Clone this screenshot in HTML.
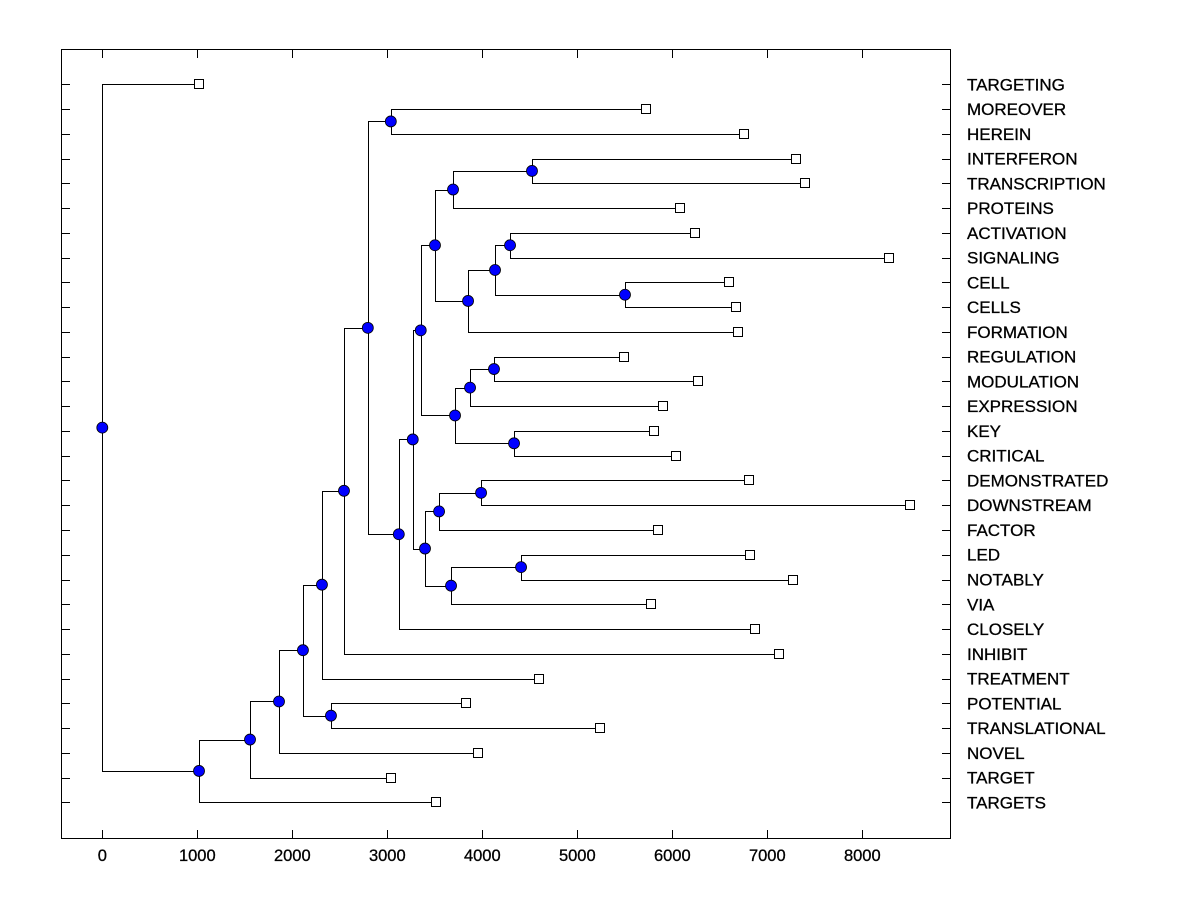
<!DOCTYPE html>
<html><head><meta charset="utf-8"><style>
html,body{margin:0;padding:0;background:#fff;}
svg{display:block;font-family:"Liberation Sans",Arial,sans-serif;}
</style></head><body>
<svg id="chart" width="1200" height="900" viewBox="0 0 1200 900">
<rect x="0" y="0" width="1200" height="900" fill="#fff"/>
<rect x="61.5" y="49.5" width="889" height="789" fill="none" stroke="#000" stroke-width="1"/>
<g id="ticks"></g>
<g id="links"></g>
<g id="marks"></g>
<g id="labels"></g>
</svg>
<script>
const leafLabels = ["TARGETING","MOREOVER","HEREIN","INTERFERON","TRANSCRIPTION","PROTEINS","ACTIVATION","SIGNALING","CELL","CELLS","FORMATION","REGULATION","MODULATION","EXPRESSION","KEY","CRITICAL","DEMONSTRATED","DOWNSTREAM","FACTOR","LED","NOTABLY","VIA","CLOSELY","INHIBIT","TREATMENT","POTENTIAL","TRANSLATIONAL","NOVEL","TARGET","TARGETS"];
const leafValues = [1018,5723,6755,7302,7397,6081,6239,8281,6597,6671,6692,5492,6271,5902,5807,6039,6807,8502,5849,6818,7271,5776,6871,7123,4597,3828,5239,3955,3039,3513];
const mergeLeft  = [3,8,6,11,14,16,19,1,25,32,30,39,40,33,43,42,35,36,46,45,49,37,51,52,53,54,55,56,0];
const mergeRight = [4,9,7,12,15,17,20,2,26,31,5,10,41,13,34,44,18,21,47,48,22,50,23,24,38,27,28,29,57];
const mergeHeight= [4523,5502,4292,4123,4334,3987,4408,3037,2407,4134,3692,3850,3502,3871,3713,3352,3545,3671,3397,3268,3121,2795,2544,2312,2112,1860,1555,1018,0];
const xTicks = [0,1000,2000,3000,4000,5000,6000,7000,8000];

const NS="http://www.w3.org/2000/svg";
const xs = v => 102.3 + 0.095*v;
const ys = i => 84.3 + i*24.76;
function mk(tag, attrs, parent){const e=document.createElementNS(NS,tag);for(const k in attrs)e.setAttribute(k,attrs[k]);parent.appendChild(e);return e;}
const gT=document.getElementById('ticks'),gL=document.getElementById('links'),gM=document.getElementById('marks'),gLab=document.getElementById('labels');

xTicks.forEach(t=>{
  const x=Math.round(xs(t))+0.5;
  let l=mk('line',{x1:x,x2:x,y1:830,y2:838,stroke:'#000'},gT);
  
  
  l=mk('line',{x1:x,x2:x,y1:50,y2:58,stroke:'#000'},gT);
  
  
  const tx=mk('text',{x:xs(t),y:861,'text-anchor':'middle','font-size':'16.5','stroke':'#000','stroke-width':'0.3'},gT);
  tx.textContent=t;
  
  
});
leafLabels.forEach((n,i)=>{
  const y=Math.round(ys(i))+0.5;
  let l=mk('line',{x1:62,x2:70,y1:y,y2:y,stroke:'#000'},gT);
  
  
  l=mk('line',{x1:942,x2:950,y1:y,y2:y,stroke:'#000'},gT);
  
  
  const tx=mk('text',{x:967,y:ys(i)+6,'font-size':'17','stroke':'#000','stroke-width':'0.3'},gLab);
  tx.textContent=n;
  
  
});

const nx=[],ny=[];
leafValues.forEach((v,i)=>{nx.push(xs(v));ny.push(ys(i));});
mergeHeight.forEach((h,k)=>{
  const a=mergeLeft[k],b=mergeRight[k];
  nx.push(xs(h));ny.push((ny[a]+ny[b])/2);
});
mergeHeight.forEach((h,k)=>{
  const a=mergeLeft[k],b=mergeRight[k],px=Math.round(xs(h))+0.5;
  const ya=Math.round(ny[a])+0.5,yb=Math.round(ny[b])+0.5;
  const p=mk('path',{d:`M${nx[a]},${ya}H${px}V${yb}H${nx[b]}`,fill:'none',stroke:'#000','stroke-width':1},gL);
  
  
});
leafValues.forEach((v,i)=>{
  const r=mk('rect',{x:Math.round(xs(v))-4.5,y:Math.round(ys(i))-4.5,width:9,height:9,fill:'#fff',stroke:'#000'},gM);
  
  
});
mergeHeight.forEach((h,k)=>{
  const id=leafValues.length+k;
  const c=mk('circle',{cx:nx[id],cy:ny[id],r:5.5,fill:'#0000ff',stroke:'#000','stroke-width':0.8},gM);
  
  
});
</script>
</body></html>
